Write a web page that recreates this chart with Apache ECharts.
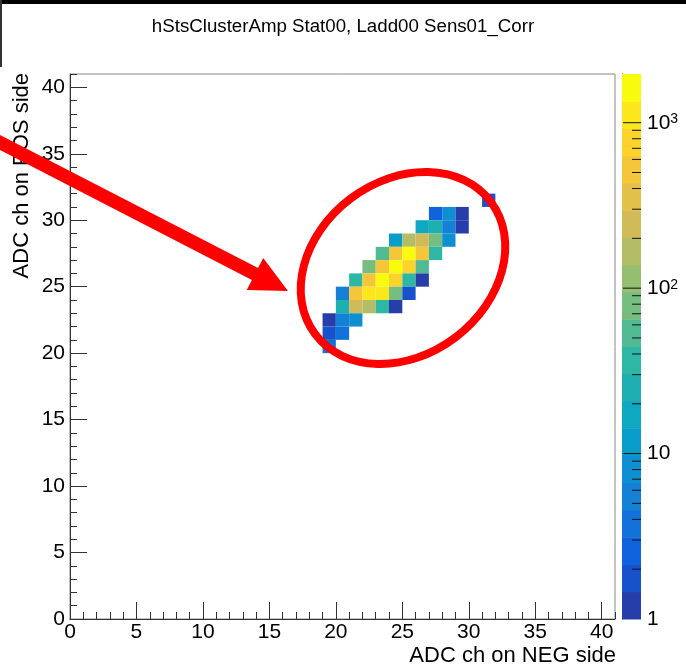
<!DOCTYPE html>
<html>
<head>
<meta charset="utf-8">
<script src="https://cdn.jsdelivr.net/npm/echarts@6/dist/echarts.min.js"></script>
<style>
  html, body { margin: 0; padding: 0; background: #fff; }
  #chart { width: 686px; height: 671px; }
</style>
</head>
<body>
<div id="chart"></div>
<script>
// 2D cluster amplitude correlation, one row of bins per POS channel
const rowY = [31, 30, 29, 28, 27, 26, 25, 24, 23, 22, 21, 20];
const rowStartX = [31, 27, 26, 24, 23, 22, 21, 20, 20, 19, 19, 19];
const rowCounts = [
  [2],
  [3, 8, 1],
  [16, 25, 5, 1],
  [12, 170, 250, 80, 8],
  [55, 550, 1700, 550, 35],
  [80, 550, 1800, 800, 55],
  [35, 550, 1950, 800, 35, 1],
  [5, 500, 1100, 1100, 80, 2],
  [25, 250, 170, 35, 1],
  [1, 5, 8],
  [2, 4],
  [4]
];

const axisMin = 0;
const axisMax = 41;
const zMin = 1;
const zMax = 1970;
const nContours = 20;
const colorbarMajor = [10, 100, 1000];
const colorbarMinor = [2, 3, 4, 5, 6, 7, 8, 9, 20, 30, 40, 50, 60, 70, 80, 90, 200, 300, 400, 500, 600, 700, 800, 900];

const titleText = 'hStsClusterAmp Stat00, Ladd00 Sens01_Corr';
const xTitle = 'ADC ch on NEG side';
const yTitle = 'ADC ch on POS side';

// ROOT kBird palette
const birdR = [0.2082, 0.0592, 0.0780, 0.0232, 0.1802, 0.5301, 0.8186, 0.9956, 0.9764];
const birdG = [0.1664, 0.3599, 0.5041, 0.6419, 0.7178, 0.7492, 0.7328, 0.7862, 0.9832];
const birdB = [0.5293, 0.8684, 0.8385, 0.7914, 0.6425, 0.4662, 0.3499, 0.1968, 0.0539];

function bird(f) {
  const t = Math.max(0, Math.min(1, f)) * (birdR.length - 1);
  const i = Math.min(Math.floor(t), birdR.length - 2);
  const w = t - i;
  const c = [birdR, birdG, birdB].map(a => Math.round(255 * (a[i] + w * (a[i + 1] - a[i]))));
  return 'rgb(' + c.join(',') + ')';
}

const logRange = Math.log10(zMax) - Math.log10(zMin);
const bandColors = [];
for (let k = 0; k < nContours; k++) bandColors.push(bird((k + 1) / nContours));

function colorFor(v) {
  let k = Math.floor((Math.log10(v) - Math.log10(zMin)) / logRange * nContours);
  k = Math.max(0, Math.min(nContours - 1, k));
  return bandColors[k];
}

const cells = [];
rowY.forEach((y, r) => {
  rowCounts[r].forEach((c, i) => cells.push([rowStartX[r] + i, y, c]));
});

const bands = [];
for (let k = 0; k < nContours; k++) {
  bands.push([
    Math.pow(10, Math.log10(zMin) + logRange * k / nContours),
    Math.pow(10, Math.log10(zMin) + logRange * (k + 1) / nContours),
    k
  ]);
}
const cbTicks = colorbarMajor.map(v => [v, 18]).concat(colorbarMinor.filter(v => v < zMax).map(v => [v, 9]));

const font = 'Liberation Sans';

// arrow annotation (pixel space)
const arrowStart = [-4, 140.5];
const arrowBase = [255, 274];
const arrowTip = [288, 291];
function arrowPoints() {
  const dx = arrowTip[0] - arrowStart[0], dy = arrowTip[1] - arrowStart[1];
  const len = Math.sqrt(dx * dx + dy * dy);
  const nx = -dy / len, ny = dx / len;
  const sw = 6.7, hw = 18;
  return [
    [arrowStart[0] - nx * sw, arrowStart[1] - ny * sw],
    [arrowBase[0] - nx * sw, arrowBase[1] - ny * sw],
    [arrowBase[0] - nx * hw, arrowBase[1] - ny * hw],
    arrowTip,
    [arrowBase[0] + nx * hw, arrowBase[1] + ny * hw],
    [arrowBase[0] + nx * sw, arrowBase[1] + ny * sw],
    [arrowStart[0] + nx * sw, arrowStart[1] + ny * sw]
  ];
}

const chart = echarts.init(document.getElementById('chart'));

const labelStyle = { fontSize: 21, color: '#000', fontFamily: font };

const option = {
  animation: false,
  backgroundColor: '#fff',
  grid: [
    { left: 70, top: 74, width: 545, height: 545, show: true, borderColor: '#888', borderWidth: 1, backgroundColor: 'transparent' },
    { left: 622, top: 74, width: 19, height: 545 }
  ],
  xAxis: [
    {
      gridIndex: 0, type: 'value', min: axisMin, max: axisMax, interval: 5,
      axisLine: { show: true, onZero: false, lineStyle: { color: '#333', width: 1 } },
      axisTick: { show: true, inside: true, length: 17, lineStyle: { color: '#333' } },
      axisLabel: Object.assign({ margin: 3, showMaxLabel: false }, labelStyle),
      splitLine: { show: false }
    },
    {
      gridIndex: 0, type: 'value', min: axisMin, max: axisMax, interval: 1, position: 'bottom',
      axisLine: { show: false },
      axisTick: { show: true, inside: true, length: 7, lineStyle: { color: '#333' } },
      axisLabel: { show: false },
      splitLine: { show: false }
    },
    { gridIndex: 1, type: 'value', min: 0, max: 1, show: false }
  ],
  yAxis: [
    {
      gridIndex: 0, type: 'value', min: axisMin, max: axisMax, interval: 5,
      axisLine: { show: true, onZero: false, lineStyle: { color: '#333', width: 1 } },
      axisTick: { show: true, inside: true, length: 17, lineStyle: { color: '#333' } },
      axisLabel: Object.assign({ margin: 5, showMaxLabel: false }, labelStyle),
      splitLine: { show: false }
    },
    {
      gridIndex: 0, type: 'value', min: axisMin, max: axisMax, interval: 1, position: 'left',
      axisLine: { show: false },
      axisTick: { show: true, inside: true, length: 7, lineStyle: { color: '#333' } },
      axisLabel: { show: false },
      splitLine: { show: false }
    },
    {
      gridIndex: 1, type: 'log', logBase: 10, min: zMin, max: zMax, position: 'right',
      axisLine: { show: true, lineStyle: { color: '#000', width: 1 } },
      axisTick: { show: false },
      splitLine: { show: false },
      axisLabel: Object.assign({
        margin: 6,
        showMaxLabel: false,
        formatter: function (v) {
          const e = Math.round(Math.log10(v));
          if (e <= 1) return String(Math.round(v));
          return '10{sup|' + e + '}';
        },
        rich: { sup: { fontSize: 14, fontFamily: font, color: '#000', verticalAlign: 'top', padding: [0, 0, 7, 0] } }
      }, labelStyle)
    }
  ],
  series: [
    {
      type: 'custom',
      xAxisIndex: 0, yAxisIndex: 0,
      data: cells,
      renderItem: function (params, api) {
        const p0 = api.coord([api.value(0), api.value(1) + 1]);
        const p1 = api.coord([api.value(0) + 1, api.value(1)]);
        return {
          type: 'rect',
          shape: { x: p0[0], y: p0[1], width: p1[0] - p0[0], height: p1[1] - p0[1] },
          style: { fill: colorFor(api.value(2)) }
        };
      }
    },
    {
      type: 'custom',
      xAxisIndex: 2, yAxisIndex: 2,
      data: bands,
      renderItem: function (params, api) {
        const p0 = api.coord([0, api.value(1)]);
        const p1 = api.coord([1, api.value(0)]);
        return {
          type: 'rect',
          shape: { x: p0[0], y: p0[1], width: p1[0] - p0[0], height: p1[1] - p0[1] + 0.5 },
          style: { fill: bandColors[api.value(2)] }
        };
      }
    },
    {
      type: 'custom',
      xAxisIndex: 2, yAxisIndex: 2,
      data: cbTicks,
      z: 5,
      renderItem: function (params, api) {
        const p = api.coord([1, api.value(0)]);
        return {
          type: 'line',
          shape: { x1: p[0], y1: p[1], x2: p[0] - api.value(1), y2: p[1] },
          style: { stroke: '#111', lineWidth: 1 }
        };
      }
    }
  ],
  graphic: [
    { type: 'rect', shape: { x: 0, y: 0, width: 686, height: 4 }, style: { fill: '#000' } },
    { type: 'rect', shape: { x: 0, y: 0, width: 2, height: 67 }, style: { fill: '#333' } },
    {
      type: 'text', x: 343, y: 27,
      style: { text: titleText, font: '18.7px "Liberation Sans"', fill: '#000', align: 'center', verticalAlign: 'middle' }
    },
    {
      type: 'text', x: 616, y: 656,
      style: { text: xTitle, font: '22px "Liberation Sans"', fill: '#000', align: 'right', verticalAlign: 'middle' }
    },
    {
      type: 'text', x: 22, y: 73, rotation: Math.PI / 2,
      style: { text: yTitle, font: '22px "Liberation Sans"', fill: '#000', align: 'right', verticalAlign: 'middle' }
    },
    {
      type: 'polygon', z: 100,
      shape: { points: arrowPoints() },
      style: { fill: '#ff0000' }
    },
    {
      type: 'ellipse', z: 100, x: 403, y: 268, rotation: 37 * Math.PI / 180,
      shape: { cx: 0, cy: 0, rx: 110, ry: 87 },
      style: { fill: 'none', stroke: '#ff0000', lineWidth: 8 }
    }
  ]
};

chart.setOption(option);
</script>
</body>
</html>
